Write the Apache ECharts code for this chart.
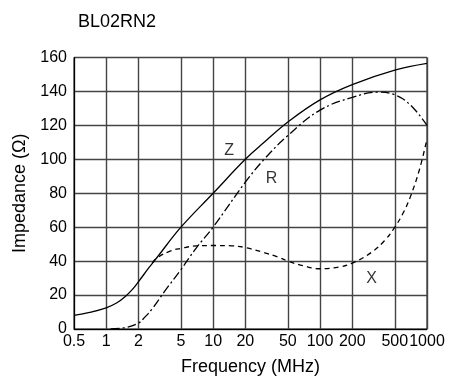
<!DOCTYPE html>
<html>
<head>
<meta charset="utf-8">
<script src="https://cdn.jsdelivr.net/npm/echarts@6/dist/echarts.min.js"></script>
<style>
html,body{margin:0;padding:0;background:#fff;}
#c{width:458px;height:381px;}
</style>
</head>
<body>
<div id="c"></div>
<script>
const title = 'BL02RN2';
const freqTicks = [0.5, 1, 2, 5, 10, 20, 50, 100, 200, 500, 1000];

const zFreq = [0.5, 0.7, 1, 1.25, 1.5, 1.75, 2, 2.5, 3, 5, 10, 20, 30, 50, 100, 200, 500, 1000];
const zVal  = [8, 9.8, 12.5, 15.3, 19, 23.2, 27.8, 36, 42.3, 60, 80, 100, 110, 122, 135, 144, 152.5, 156.5];

const rFreq = [1.1, 1.5, 2, 2.3, 2.7, 3.5, 5, 7, 10, 20, 30, 50, 100, 200, 350, 500, 700, 1000];
const rVal  = [0, 0.8, 3.5, 7, 12, 22, 35, 48, 60, 86.5, 100, 114, 129, 136.5, 139.6, 138, 132, 120];

const xFreq = [2.7, 3, 4, 5, 7, 10, 15, 20, 30, 40, 50, 70, 100, 150, 200, 300, 400, 500, 600, 700, 850, 1000];
const xVal  = [39, 42, 46, 47.5, 49, 49.2, 49, 48, 45, 42.5, 40, 37.2, 35.5, 36.5, 38.8, 45, 52, 60, 68.5, 78, 94, 112];

const curveNames = ['Z', 'R', 'X'];
const labelFreq = [14.1, 35.2, 303];
const labelVal = [105, 88.4, 30];

const pairs = (fs, vs) => fs.map((f, i) => [f, vs[i]]);
const font = '"Liberation Sans", Arial, sans-serif';

const chart = echarts.init(document.getElementById('c'));
chart.setOption({
  animation: false,
  backgroundColor: '#fff',
  title: {
    text: title, left: 73, top: 8,
    textStyle: { fontFamily: font, fontSize: 18, fontWeight: 'normal', color: '#000' }
  },
  grid: { left: 74, right: 31, top: 57.5, bottom: 49.5, show: true, borderColor: '#000', borderWidth: 1 },
  xAxis: {
    type: 'log', logBase: 10, min: 0.5, max: 1000,
    name: 'Frequency (MHz)', nameLocation: 'middle', nameGap: 29,
    nameTextStyle: { fontFamily: font, fontSize: 18, color: '#000' },
    axisLine: { show: true, lineStyle: { color: '#000', width: 1 } },
    axisTick: { show: false, customValues: freqTicks },
    axisLabel: { customValues: freqTicks, fontFamily: font, fontSize: 16, color: '#000', margin: 5,
      formatter: v => String(v) },
    splitLine: { show: true, lineStyle: { color: '#444', width: 1.4 } },
    minorSplitLine: { show: false }
  },
  yAxis: {
    type: 'value', min: 0, max: 160, interval: 20,
    name: 'Impedance (Ω)', nameLocation: 'middle', nameGap: 43,
    nameTextStyle: { fontFamily: font, fontSize: 18, color: '#000' },
    axisLine: { show: true, lineStyle: { color: '#000', width: 1 } },
    axisTick: { show: false },
    axisLabel: { fontFamily: font, fontSize: 16, color: '#000', margin: 7 },
    splitLine: { show: true, lineStyle: { color: '#444', width: 1.4 } }
  },
  series: [
    { name: 'Z', type: 'line', data: pairs(zFreq, zVal), smooth: 0.4, showSymbol: false,
      lineStyle: { color: '#000', width: 1.3, type: 'solid' }, z: 5 },
    { name: 'R', type: 'line', data: pairs(rFreq, rVal), smooth: 0.4, showSymbol: false,
      lineStyle: { color: '#000', width: 1.3, type: [9, 3, 2, 3] }, z: 5 },
    { name: 'X', type: 'line', data: pairs(xFreq, xVal), smooth: 0.4, showSymbol: false,
      lineStyle: { color: '#000', width: 1.3, type: [5, 4] }, z: 5 },
    { name: 'labels', type: 'scatter', symbolSize: 0, silent: true, z: 6,
      data: curveNames.map((n, i) => [labelFreq[i], labelVal[i], n]),
      label: { show: true, position: 'inside', formatter: p => p.value[2],
        fontFamily: font, fontSize: 16, color: '#000' } }
  ]
});
</script>
</body>
</html>
